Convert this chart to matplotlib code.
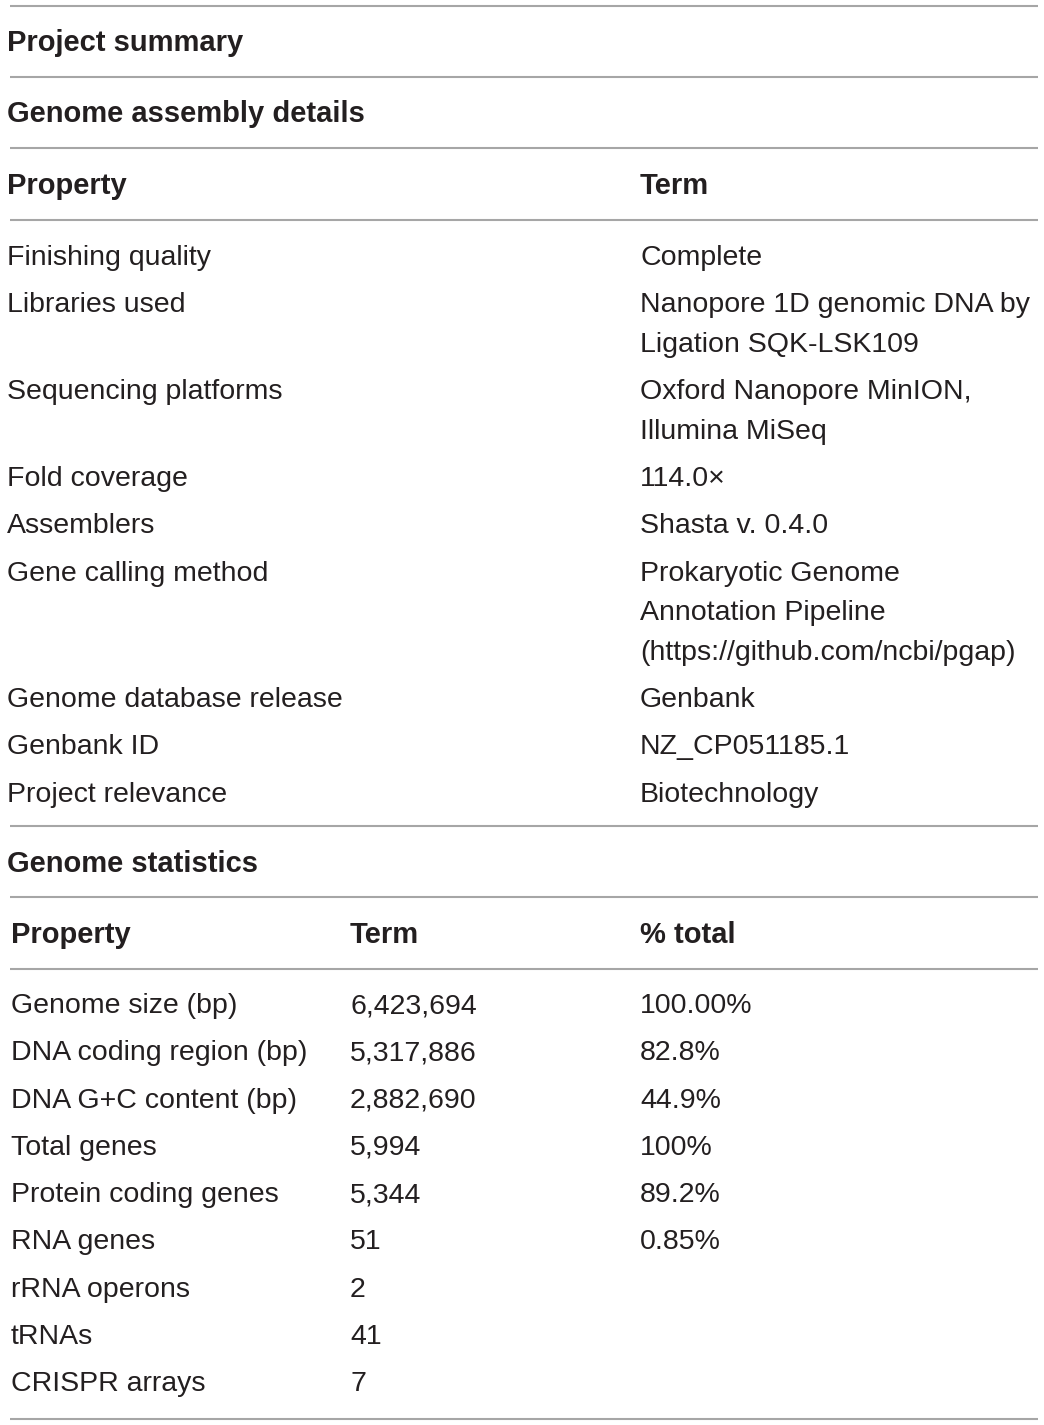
import matplotlib
matplotlib.use("Agg")
import matplotlib.pyplot as plt

# ---- data ----
title_summary = "Project summary"
title_assembly = "Genome assembly details"
title_stats = "Genome statistics"

assembly_header = ["Property", "Term"]
assembly_props = ["Finishing quality", "Libraries used", "Sequencing platforms",
                  "Fold coverage", "Assemblers", "Gene calling method",
                  "Genome database release", "Genbank ID", "Project relevance"]
assembly_terms = [["Complete"],
                  ["Nanopore 1D genomic DNA by", "Ligation SQK-LSK109"],
                  ["Oxford Nanopore MinION,", "Illumina MiSeq"],
                  ["114.0\u00d7"],
                  ["Shasta v. 0.4.0"],
                  ["Prokaryotic Genome", "Annotation Pipeline",
                   "(https://github.com/ncbi/pgap)"],
                  ["Genbank"],
                  ["NZ_CP051185.1"],
                  ["Biotechnology"]]

stats_header = ["Property", "Term", "% total"]
stats_props = ["Genome size (bp)", "DNA coding region (bp)", "DNA G+C content (bp)",
               "Total genes", "Protein coding genes", "RNA genes", "rRNA operons",
               "tRNAs", "CRISPR arrays"]
stats_terms = ["6,423,694", "5,317,886", "2,882,690", "5,994", "5,344", "51",
               "2", "41", "7"]
stats_pct = ["100.00%", "82.8%", "44.9%", "100%", "89.2%", "0.85%", "", "", ""]

# ---- layout ----
W, H = 1044, 1425
fig = plt.figure(figsize=(W / 100, H / 100), dpi=100)
ax = fig.add_axes([0, 0, 1, 1])
ax.set_xlim(0, W)
ax.set_ylim(H, 0)
ax.axis("off")

FONT = "Liberation Sans"
FS = 20.5
FSB = 21
TXT = "#231f20"
LINE = "#a6a6a6"
ROW = 47.3
WRAP = 39.6

def hline(y):
    ax.plot([10, 1038], [y, y], color=LINE, lw=1.5, solid_capstyle="butt")

def txt(x, y, s, bold=False):
    ax.text(x, y, s, fontsize=FSB if bold else FS, family=FONT, color=TXT,
            fontweight="bold" if bold else "normal", va="baseline", ha="left")

hline(5.5)
txt(7, 51, title_summary, bold=True)
hline(77)
txt(7, 122, title_assembly, bold=True)
hline(148)
txt(7, 194, assembly_header[0], bold=True)
txt(640, 194, assembly_header[1], bold=True)
hline(219.5)

y = 265
for prop, term in zip(assembly_props, assembly_terms):
    txt(7, y, prop)
    for k, line in enumerate(term):
        txt(640, y + k * WRAP, line)
    y += ROW + (len(term) - 1) * WRAP

hline(826)
txt(7, 872, title_stats, bold=True)
hline(897)
for x, h in zip([11, 350, 640], stats_header):
    txt(x, 943, h, bold=True)
hline(968.5)

y = 1013
for p, t, c in zip(stats_props, stats_terms, stats_pct):
    txt(11, y, p)
    txt(350, y, t)
    if c:
        txt(640, y, c)
    y += ROW

hline(1419)

fig.savefig("out.png", dpi=100)
